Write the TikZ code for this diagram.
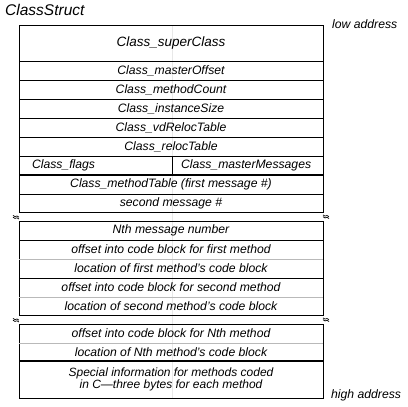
\documentclass[tikz,border=0pt]{standalone}
\usepackage{fontspec}
\setmainfont{Liberation Sans}
\newcommand\rowfont{\fontsize{12.2}{13}\selectfont\itshape}
\begin{document}
\begin{tikzpicture}[x=1pt,y=-1pt,
  row/.style={minimum width=304pt, minimum height=#1, inner sep=0pt, outer sep=0pt, anchor=north, font=\rowfont},
  half/.style={minimum height=19pt, inner ysep=0pt, outer sep=0pt, anchor=north west, align=left, font=\rowfont},
  lbl/.style={inner sep=0pt, anchor=base west, font=\fontsize{12.2}{14}\selectfont\itshape},
  frame/.style={line width=0.8pt, black},
  sepg/.style={line width=0.8pt, gray!55},
  sepk/.style={line width=1.9pt, black},
  faint/.style={line width=0.6pt, gray!18},
  brk/.pic={\draw[line width=0.7pt] (-3,-1.6) -- (-1,-0.4) -- (1,-1.0) -- (3,0.2);
            \draw[line width=0.7pt] (-3,0.2) -- (-1,1.4) -- (1,0.8) -- (3,2.0);}]
\useasboundingbox (0,0) rectangle (408,407);

% faint centre line
\coordinate (vtop) at (172,25);
\coordinate (vbot) at (172,398);
\draw[faint] (vtop) -- (vbot);

% labels
\node[lbl, font=\fontsize{15.5}{17}\selectfont\itshape] (title) at (5,15.5) {ClassStruct};
\node[lbl] (low) at (332,28) {low address};
\node[lbl] (high) at (331,398) {high address};

% block 1
\node[row=36] (super) at (171,25) {\fontsize{13.5}{15}\selectfont Class\_superClass};
\node[row=19] (moff) at (171,61) {Class\_masterOffset};
\node[row=19] (mcount) at (171,80) {Class\_methodCount};
\node[row=19] (isize) at (171,99) {Class\_instanceSize};
\node[row=19] (vdr) at (171,118) {Class\_vdRelocTable};
\node[row=19] (reloc) at (171,137) {Class\_relocTable};
\node[half, inner xsep=13pt, text width=127pt] (flags) at (19,156) {Class\_flags};
\node[half, inner xsep=9pt, text width=133pt] (masters) at (172,156) {Class\_masterMessages};
\node[row=19] (mtab) at (171,175) {Class\_methodTable (first message \#)};
\node[row=18] (second) at (171,194) {second message \#};

% block 2
\node[row=19] (nth) at (171,221) {Nth message number};
\node[row=19] (off1) at (171,240) {offset into code block for first method};
\node[row=19] (loc1) at (171,259) {location of first method’s code block};
\node[row=19] (off2) at (171,278) {offset into code block for second method};
\node[row=18] (loc2) at (171,297) {location of second method’s code block};

% block 3
\node[row=19] (offN) at (171,324) {offset into code block for Nth method};
\node[row=18] (locN) at (171,343) {location of Nth method’s code block};
\node[row=37, align=center, font=\fontsize{12}{9}\selectfont\itshape] (special) at (171,361) {Special information for methods coded\\in C—three bytes for each method};

% frames and separators
\draw[frame] (super.north west) rectangle (second.south east);
\foreach \n in {super,moff,mcount,isize,vdr,reloc,mtab}
  \draw[frame] (\n.south west) -- (\n.south east);
\draw[frame] (flags.north east) -- (flags.south east);
\draw[sepk] (mtab.north west) -- (mtab.north east);

\draw[frame] (nth.north west) rectangle (loc2.south east);
\draw[frame] (nth.south west) -- (nth.south east);
\draw[frame] (loc1.south west) -- (loc1.south east);
\draw[sepg] (off1.south west) -- (off1.south east);
\draw[sepg] (off2.south west) -- (off2.south east);

\draw[frame] (offN.north west) rectangle (special.south east);
\draw[sepg] (offN.south west) -- (offN.south east);
\draw[sepk] (locN.south west) -- (locN.south east);

% break marks
\coordinate (b1l) at (16,217);
\coordinate (b1r) at (326,216.5);
\coordinate (b2l) at (16,320);
\coordinate (b2r) at (326,319.5);
\foreach \b in {b1l,b1r,b2l,b2r} \pic at (\b) {brk};
\end{tikzpicture}
\end{document}
